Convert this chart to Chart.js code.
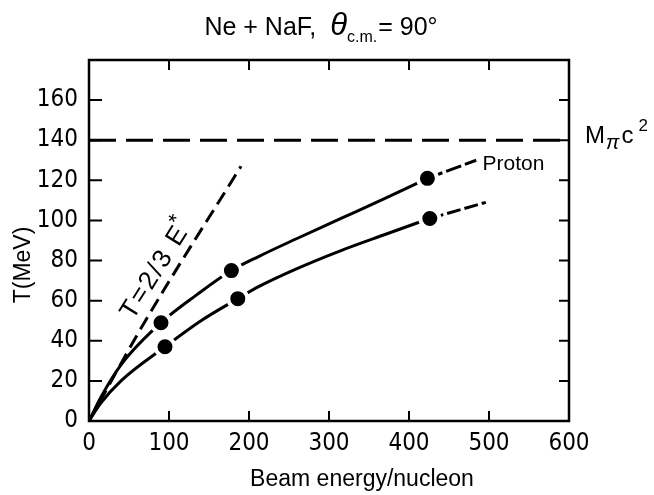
<!DOCTYPE html>
<html>
<head>
<meta charset="utf-8">
<script src="https://cdn.jsdelivr.net/npm/chart.js@4.4.0/dist/chart.umd.min.js"></script>
<style>
  body { margin: 0; background: #fff; }
  #wrap { position: relative; width: 654px; height: 495px; }
</style>
</head>
<body>
<div id="wrap"><canvas id="chart"></canvas></div>
<script>
(() => {

    // axis ticks
    const xTicks = [0, 100, 200, 300, 400, 500, 600];
    const yTicks = [0, 20, 40, 60, 80, 100, 120, 140, 160];

    // Proton curve (solid part, then dashed tail) and its measured points
    const protonE = [0, 15, 40, 90, 135, 178, 212, 260, 315, 370, 423];
    const protonT = [0, 12, 28, 49, 63, 75, 82, 91, 101, 111, 121];
    const protonTailE = [423, 484];
    const protonTailT = [121, 130];
    const protonDotE = [90, 178, 423];
    const protonDotT = [49, 75, 121];

    // lower curve
    const lowerE = [0, 15, 40, 95, 140, 186, 212, 260, 315, 370, 426];
    const lowerT = [0, 9, 20, 37, 50, 61, 67, 76, 85, 93, 101];
    const lowerTailE = [426, 496];
    const lowerTailT = [101, 109];
    const lowerDotE = [95, 186, 426];
    const lowerDotT = [37, 61, 101];

    // T = 2/3 E* line and pion mass line
    const kinE = [0, 72, 190];
    const kinT = [0, 51, 127];
    const pionE = [0, 600];
    const pionT = [140, 140];

    const FONT = '"Liberation Sans", Arial, sans-serif';
    const NARROW = '"Liberation Sans Narrow", "DejaVu Sans Condensed", "Liberation Sans", sans-serif';
    const pts = (xs, ys) => xs.map((v, i) => ({ x: v, y: ys[i] }));

    const line = (data, dash) => ({
        data: data,
        showLine: true,
        borderColor: '#000',
        borderWidth: 3,
        borderDash: dash || [],
        borderCapStyle: 'butt',
        pointRadius: 0,
        cubicInterpolationMode: 'monotone',
    });
    const dots = (data) => ({
        data: data,
        showLine: false,
        pointRadius: 9.5,
        pointBackgroundColor: '#000',
        pointBorderColor: '#fff',
        pointBorderWidth: 4,
    });

    // box, inward ticks and all free text
    const decor = {
        id: 'decor',
        afterDraw(chart) {
            const { ctx, chartArea: a, scales: { x, y } } = chart;
            ctx.save();
            ctx.strokeStyle = '#000';
            ctx.lineWidth = 2.5;
            ctx.strokeRect(a.left, a.top, a.right - a.left, a.bottom - a.top);

            ctx.lineWidth = 2;
            ctx.beginPath();
            xTicks.forEach(v => {
                const px = x.getPixelForValue(v);
                ctx.moveTo(px, a.bottom); ctx.lineTo(px, a.bottom - 10);
                ctx.moveTo(px, a.top); ctx.lineTo(px, a.top + 10);
            });
            yTicks.forEach(v => {
                const py = y.getPixelForValue(v);
                ctx.moveTo(a.left, py); ctx.lineTo(a.left + 13, py);
                ctx.moveTo(a.right, py); ctx.lineTo(a.right - 10, py);
            });
            ctx.stroke();

            ctx.fillStyle = '#000';
            ctx.textBaseline = 'alphabetic';
            ctx.textAlign = 'left';

            // title: Ne + NaF, θc.m.= 90°
            const parts = [
                ['Ne + NaF,', '25px ' + FONT, 0, 14],
                ['θ', 'italic 31px ' + FONT, 0, 0],
                ['c.m.', '16px ' + FONT, 7, 1],
                ['= 90°', '25px ' + FONT, 0, 0],
            ];
            let total = 0;
            parts.forEach(p => { ctx.font = p[1]; total += ctx.measureText(p[0]).width + p[3]; });
            let tx = 321 - total / 2;
            parts.forEach(p => {
                ctx.font = p[1];
                ctx.fillText(p[0], tx, 35 + p[2]);
                tx += ctx.measureText(p[0]).width + p[3];
            });

            // axis titles
            ctx.font = '23px ' + FONT;
            ctx.textAlign = 'center';
            ctx.fillText('Beam energy/nucleon', 362, 486);
            ctx.save();
            ctx.translate(30, 265);
            ctx.rotate(-Math.PI / 2);
            ctx.fillText('T(MeV)', 0, 0);
            ctx.restore();

            // Proton label
            ctx.textAlign = 'left';
            ctx.font = '21px ' + FONT;
            ctx.fillText('Proton', x.getPixelForValue(492), y.getPixelForValue(125));

            // M_pi c^2 label
            const my = y.getPixelForValue(140) + 3;
            let mx = a.right + 16;
            ctx.font = '24px ' + FONT;
            ctx.fillText('M', mx, my);
            mx += ctx.measureText('M').width + 1;
            ctx.font = 'italic 20px ' + FONT;
            ctx.fillText('π', mx, my + 6);
            mx += ctx.measureText('π').width + 2;
            ctx.font = '24px ' + FONT;
            ctx.fillText('c', mx, my);
            mx += ctx.measureText('c').width + 5;
            ctx.font = '17px ' + FONT;
            ctx.fillText('2', mx, my - 12);

            // T=2/3 E* along the dashed line
            ctx.save();
            ctx.translate(x.getPixelForValue(55), y.getPixelForValue(50));
            ctx.rotate(-58 * Math.PI / 180);
            ctx.font = '26px ' + FONT;
            ctx.letterSpacing = '2px';
            ctx.fillText('T=2/3 E', 0, 0);
            const w = ctx.measureText('T=2/3 E').width;
            ctx.font = '22px ' + FONT;
            ctx.fillText('*', w - 2, -10);
            ctx.restore();

            ctx.restore();
        }
    };

    const ctx = document.getElementById('chart').getContext('2d');
    new Chart(ctx, {
        type: 'scatter',
        data: {
            datasets: [
                dots(pts(protonDotE, protonDotT)),
                dots(pts(lowerDotE, lowerDotT)),
                line(pts(protonE, protonT)),
                line(pts(protonTailE, protonTailT), [16, 4]),
                line(pts(lowerE, lowerT)),
                line(pts(lowerTailE, lowerTailT), [14, 4]),
                line(pts(kinE, kinT), [14, 7]),
                line(pts(pionE, pionT), [27, 10]),
            ]
        },
        options: {
            responsive: true,
            maintainAspectRatio: false,
            animation: false,
            layout: { padding: { left: 0, right: 85, top: 60, bottom: 0 } },
            plugins: { legend: { display: false }, tooltip: { enabled: false } },
            scales: {
                x: {
                    type: 'linear',
                    min: 0, max: 600,
                    afterBuildTicks: s => { s.ticks = xTicks.map(v => ({ value: v })); },
                    afterFit: s => { s.height = 74; },
                    grid: { display: false, drawTicks: false },
                    border: { display: false },
                    ticks: { color: '#000', padding: 8, maxRotation: 0, font: { family: NARROW, size: 24 } },
                },
                y: {
                    type: 'linear',
                    min: 0, max: 180,
                    afterBuildTicks: s => { s.ticks = yTicks.map(v => ({ value: v })); },
                    afterFit: s => { s.width = 89; },
                    grid: { display: false, drawTicks: false },
                    border: { display: false },
                    ticks: { color: '#000', padding: 11, font: { family: NARROW, size: 24 } },
                }
            }
        },
        plugins: [decor]
    });
})();
</script>
</body>
</html>
